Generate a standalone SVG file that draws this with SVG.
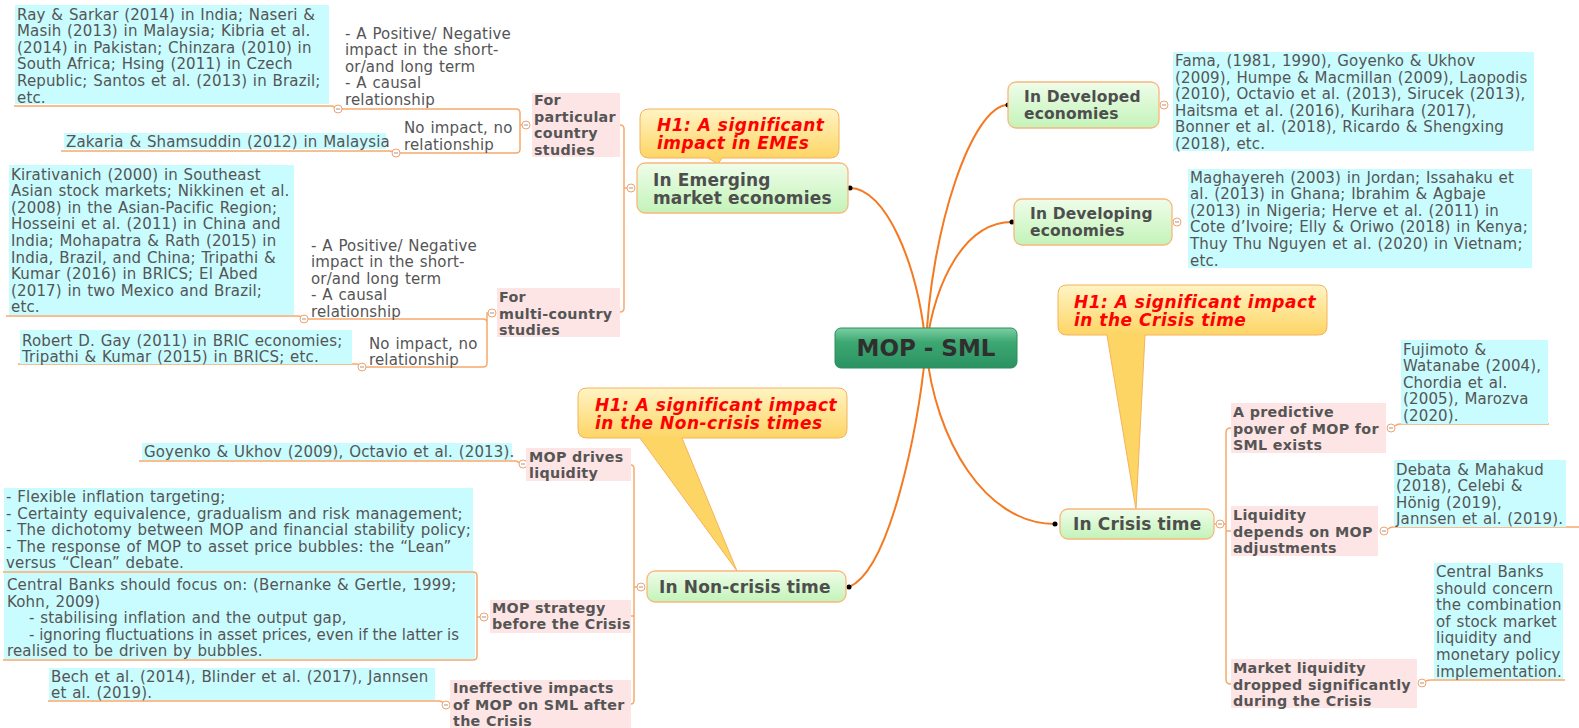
<svg xmlns="http://www.w3.org/2000/svg" width="1579" height="728" viewBox="0 0 1579 728">
<defs>
<style>
text{font-family:"DejaVu Sans",Verdana,"Liberation Sans",sans-serif}
.r{font-size:15px;fill:#555;letter-spacing:0.15px;word-spacing:0.8px}
.p{font-size:14.3px;font-weight:bold;fill:#555;letter-spacing:0.3px}
.g{font-weight:bold;fill:#4e4e4e;letter-spacing:0.15px}
.h{font-size:17px;font-weight:bold;font-style:italic;fill:#ff0000;letter-spacing:0.5px}
.cy{fill:#c9fcfe}
.pk{fill:#fde5e5}
.gn{fill:url(#gGreen);stroke:#f9b77c;stroke-width:1.3}
.ln{fill:none;stroke:#f6a96b;stroke-width:1.5}
.rc{fill:none;stroke:#f47920;stroke-width:2}
.co{stroke:#f4b25c;stroke-width:1}
</style>
<linearGradient id="gRoot" x1="0" y1="0" x2="0" y2="1"><stop offset="0" stop-color="#7ccfa3"/><stop offset="0.35" stop-color="#3da872"/><stop offset="1" stop-color="#2b9262"/></linearGradient>
<linearGradient id="gGreen" x1="0" y1="0" x2="0" y2="1"><stop offset="0" stop-color="#effde9"/><stop offset="1" stop-color="#c3f3b9"/></linearGradient>
<linearGradient id="gC1" gradientUnits="userSpaceOnUse" x1="0" y1="109" x2="0" y2="158"><stop offset="0" stop-color="#fff4c4"/><stop offset="1" stop-color="#fdd565"/></linearGradient>
<linearGradient id="gC2" gradientUnits="userSpaceOnUse" x1="0" y1="388" x2="0" y2="438"><stop offset="0" stop-color="#fff4c4"/><stop offset="1" stop-color="#fdd565"/></linearGradient>
<linearGradient id="gC3" gradientUnits="userSpaceOnUse" x1="0" y1="285" x2="0" y2="335"><stop offset="0" stop-color="#fff4c4"/><stop offset="1" stop-color="#fdd565"/></linearGradient>
<g id="cc"><circle r="4" fill="#fff" stroke="#f3a26a" stroke-width="1"/><path d="M-2 0H2" stroke="#999" stroke-width="1"/></g>
</defs>
<rect width="1579" height="728" fill="#fff"/>

<g id="connectors">
<path class="rc" d="M926 348C918 262 885 188 850 188"/>
<path class="rc" d="M926 348C930 230 972 105 1008 105"/>
<path class="rc" d="M926 348C935 280 965 222 1012 222"/>
<path class="rc" d="M926 348C918 430 890 570 849 587"/>
<path class="rc" d="M926 348C935 440 985 524 1055 524"/>
<circle cx="850" cy="188" r="2.5" fill="#000"/>
<circle cx="1008" cy="105" r="2.5" fill="#000"/>
<circle cx="1012" cy="222" r="2.5" fill="#000"/>
<circle cx="849" cy="587" r="2.5" fill="#000"/>
<circle cx="1055" cy="524" r="2.5" fill="#000"/>
<path class="ln" d="M620 125Q624 125 624 129V308Q624 312 620 312M624 188H627"/>
<path class="ln" d="M338 109H516Q520 109 520 113V149Q520 153 516 153H400M520 125H522"/>
<path class="ln" d="M14 106H331Q334 106 335 108"/>
<path class="ln" d="M61 151H389Q392 151 393 152"/>
<path class="ln" d="M306 319H483Q487 319 487 323V363Q487 367 483 367H366M487 323V313H488"/>
<path class="ln" d="M6 316H298Q301 316 302 318"/>
<path class="ln" d="M18 364H356Q359 364 360 366"/>
<path class="ln" d="M631 465Q634 465 634 469V700Q634 704 631 704M634 587H637M631 616H634"/>
<path class="ln" d="M139 461H515Q518 461 519 463"/>
<path class="ln" d="M3 572H473Q477 572 477 576V656Q477 660 473 660H3M477 617H480"/>
<path class="ln" d="M48 701H439Q442 701 443 703"/>
<path class="ln" d="M1231 428Q1226 428 1226 432V680Q1226 684 1231 684M1214 524H1226M1226 531H1231"/>
<path class="ln" d="M1395 426Q1397 424 1400 424H1549"/>
<path class="ln" d="M1388 529Q1390 527 1393 527H1579"/>
<path class="ln" d="M1426 681Q1428 680 1431 680H1565"/>
<use href="#cc" x="338" y="109"/>
<use href="#cc" x="396" y="153"/>
<use href="#cc" x="526" y="125"/>
<use href="#cc" x="631" y="188"/>
<use href="#cc" x="304" y="319"/>
<use href="#cc" x="362" y="367"/>
<use href="#cc" x="492" y="313"/>
<use href="#cc" x="641" y="587"/>
<use href="#cc" x="523" y="464"/>
<use href="#cc" x="484" y="617"/>
<use href="#cc" x="446" y="705"/>
<use href="#cc" x="1220" y="524"/>
<use href="#cc" x="1391" y="428"/>
<use href="#cc" x="1384" y="531"/>
<use href="#cc" x="1422" y="683"/>
<use href="#cc" x="1164" y="105"/>
<use href="#cc" x="1177" y="222"/>
</g>

<g id="root">
<rect x="835" y="328" width="182" height="40" rx="6" fill="url(#gRoot)" stroke="#2c8d5c" stroke-width="1"/>
<text x="926" y="356" text-anchor="middle" font-size="23" font-weight="bold" fill="#2f2f2f">MOP - SML</text>
</g>

<g id="callout-emes">
<path class="co" fill="url(#gC1)" d="M649 109H830Q839 109 839 118V149Q839 158 830 158H722L718 164L708 158H649Q640 158 640 149V118Q640 109 649 109Z"/>
<text class="h"><tspan x="657" y="131">H1: A significant</tspan><tspan x="657" y="149">impact in EMEs</tspan></text>
</g>
<g id="callout-noncrisis">
<path class="co" fill="url(#gC2)" d="M587 388H838Q847 388 847 397V429Q847 438 838 438H682L737 571L640 438H587Q578 438 578 429V397Q578 388 587 388Z"/>
<text class="h"><tspan x="595" y="411">H1: A significant impact</tspan><tspan x="595" y="429">in the Non-crisis times</tspan></text>
</g>
<g id="callout-crisis">
<path class="co" fill="url(#gC3)" d="M1067 285H1318Q1327 285 1327 294V326Q1327 335 1318 335H1145L1136 510L1107 335H1067Q1058 335 1058 326V294Q1058 285 1067 285Z"/>
<text class="h"><tspan x="1074" y="308">H1: A significant impact</tspan><tspan x="1074" y="326">in the Crisis time</tspan></text>
</g>

<g id="emerging">
<rect class="gn" x="637" y="163" width="211" height="50" rx="8"/>
<text class="g" font-size="17"><tspan x="653" y="186">In Emerging</tspan><tspan x="653" y="204">market economies</tspan></text>
</g>
<g id="developed">
<rect class="gn" x="1008" y="82" width="151" height="46" rx="8"/>
<text class="g" font-size="15.5"><tspan x="1024" y="102">In Developed</tspan><tspan x="1024" y="119">economies</tspan></text>
</g>
<g id="developing">
<rect class="gn" x="1014" y="199" width="158" height="46" rx="8"/>
<text class="g" font-size="15.5"><tspan x="1030" y="219">In Developing</tspan><tspan x="1030" y="236">economies</tspan></text>
</g>
<g id="noncrisis">
<rect class="gn" x="647" y="571" width="199" height="31" rx="8"/>
<text class="g" font-size="17" x="659" y="593">In Non-crisis time</text>
</g>
<g id="crisis">
<rect class="gn" x="1060" y="509" width="154" height="30" rx="8"/>
<text class="g" font-size="17" x="1073" y="530">In Crisis time</text>
</g>

<g id="developed-refs">
<rect class="cy" x="1173" y="52" width="361" height="99"/>
<text class="r"><tspan x="1175" y="66">Fama, (1981, 1990), Goyenko &amp; Ukhov</tspan><tspan x="1175" y="82.6">(2009), Humpe &amp; Macmillan (2009), Laopodis</tspan><tspan x="1175" y="99.2">(2010), Octavio et al. (2013), Sirucek (2013),</tspan><tspan x="1175" y="115.8">Haitsma et al. (2016), Kurihara (2017),</tspan><tspan x="1175" y="132.4">Bonner et al. (2018), Ricardo &amp; Shengxing</tspan><tspan x="1175" y="149">(2018), etc.</tspan></text>
</g>
<g id="developing-refs">
<rect class="cy" x="1188" y="169" width="344" height="99"/>
<text class="r"><tspan x="1190" y="182.5">Maghayereh (2003) in Jordan; Issahaku et</tspan><tspan x="1190" y="199.1">al. (2013) in Ghana; Ibrahim &amp; Agbaje</tspan><tspan x="1190" y="215.7">(2013) in Nigeria; Herve et al. (2011) in</tspan><tspan x="1190" y="232.3">Cote d’Ivoire; Elly &amp; Oriwo (2018) in Kenya;</tspan><tspan x="1190" y="248.9">Thuy Thu Nguyen et al. (2020) in Vietnam;</tspan><tspan x="1190" y="265.5">etc.</tspan></text>
</g>

<g id="particular">
<rect class="pk" x="532" y="93" width="88" height="64"/>
<text class="p"><tspan x="534" y="105">For</tspan><tspan x="534" y="121.7">particular</tspan><tspan x="534" y="138.4">country</tspan><tspan x="534" y="155">studies</tspan></text>
</g>
<g id="particular-impact">
<text class="r"><tspan x="345" y="38.5">- A Positive/ Negative</tspan><tspan x="345" y="55">impact in the short-</tspan><tspan x="345" y="71.5">or/and long term</tspan><tspan x="345" y="88">- A causal</tspan><tspan x="345" y="104.5">relationship</tspan></text>
</g>
<g id="particular-refs">
<rect class="cy" x="15" y="5" width="314" height="99"/>
<text class="r"><tspan x="17" y="19.5">Ray &amp; Sarkar (2014) in India; Naseri &amp;</tspan><tspan x="17" y="36.1">Masih (2013) in Malaysia; Kibria et al.</tspan><tspan x="17" y="52.7">(2014) in Pakistan; Chinzara (2010) in</tspan><tspan x="17" y="69.3">South Africa; Hsing (2011) in Czech</tspan><tspan x="17" y="85.9">Republic; Santos et al. (2013) in Brazil;</tspan><tspan x="17" y="102.5">etc.</tspan></text>
</g>
<g id="particular-noimpact">
<text class="r"><tspan x="404" y="133">No impact, no</tspan><tspan x="404" y="150">relationship</tspan></text>
</g>
<g id="zakaria">
<rect class="cy" x="64" y="133" width="322" height="16"/>
<text class="r" x="66" y="147">Zakaria &amp; Shamsuddin (2012) in Malaysia</text>
</g>

<g id="multi">
<rect class="pk" x="497" y="288" width="123" height="49"/>
<text class="p"><tspan x="499" y="302">For</tspan><tspan x="499" y="318.5">multi-country</tspan><tspan x="499" y="335">studies</tspan></text>
</g>
<g id="multi-impact">
<text class="r"><tspan x="311" y="250.5">- A Positive/ Negative</tspan><tspan x="311" y="267">impact in the short-</tspan><tspan x="311" y="283.5">or/and long term</tspan><tspan x="311" y="300">- A causal</tspan><tspan x="311" y="316.5">relationship</tspan></text>
</g>
<g id="multi-refs">
<rect class="cy" x="9" y="165" width="285" height="150"/>
<text class="r"><tspan x="11" y="179.5">Kirativanich (2000) in Southeast</tspan><tspan x="11" y="196.1">Asian stock markets; Nikkinen et al.</tspan><tspan x="11" y="212.7">(2008) in the Asian-Pacific Region;</tspan><tspan x="11" y="229.3">Hosseini et al. (2011) in China and</tspan><tspan x="11" y="245.9">India; Mohapatra &amp; Rath (2015) in</tspan><tspan x="11" y="262.5">India, Brazil, and China; Tripathi &amp;</tspan><tspan x="11" y="279.1">Kumar (2016) in BRICS; El Abed</tspan><tspan x="11" y="295.7">(2017) in two Mexico and Brazil;</tspan><tspan x="11" y="312.3">etc.</tspan></text>
</g>
<g id="multi-noimpact">
<text class="r"><tspan x="369" y="348.5">No impact, no</tspan><tspan x="369" y="365">relationship</tspan></text>
</g>
<g id="robert">
<rect class="cy" x="20" y="330" width="332" height="34"/>
<text class="r"><tspan x="22" y="345.5">Robert D. Gay (2011) in BRIC economies;</tspan><tspan x="22" y="362">Tripathi &amp; Kumar (2015) in BRICS; etc.</tspan></text>
</g>

<g id="mop-drives">
<rect class="pk" x="526" y="448" width="105" height="33"/>
<text class="p"><tspan x="529" y="462">MOP drives</tspan><tspan x="529" y="478">liquidity</tspan></text>
</g>
<g id="goyenko">
<rect class="cy" x="142" y="443" width="370" height="17"/>
<text class="r" x="144" y="457">Goyenko &amp; Ukhov (2009), Octavio et al. (2013).</text>
</g>
<g id="mop-strategy">
<rect class="pk" x="490" y="600" width="141" height="33"/>
<text class="p"><tspan x="492" y="613">MOP strategy</tspan><tspan x="492" y="629">before the Crisis</tspan></text>
</g>
<g id="strategy-list">
<rect class="cy" x="4" y="488" width="469" height="83"/>
<text class="r"><tspan x="6" y="502">- Flexible inflation targeting;</tspan><tspan x="6" y="518.6">- Certainty equivalence, gradualism and risk management;</tspan><tspan x="6" y="535.2">- The dichotomy between MOP and financial stability policy;</tspan><tspan x="6" y="551.8">- The response of MOP to asset price bubbles: the “Lean”</tspan><tspan x="6" y="568.4">versus “Clean” debate.</tspan></text>
</g>
<g id="strategy-focus">
<rect class="cy" x="4" y="573" width="471" height="86"/>
<text class="r"><tspan x="7" y="590">Central Banks should focus on: (Bernanke &amp; Gertle, 1999;</tspan><tspan x="7" y="606.6">Kohn, 2009)</tspan><tspan x="29" y="623.2">- stabilising inflation and the output gap,</tspan><tspan x="29" y="639.8" letter-spacing="0" word-spacing="0">- ignoring fluctuations in asset prices, even if the latter is</tspan><tspan x="7" y="656.4">realised to be driven by bubbles.</tspan></text>
</g>
<g id="ineffective">
<rect class="pk" x="450" y="680" width="181" height="48"/>
<text class="p"><tspan x="453" y="693">Ineffective impacts</tspan><tspan x="453" y="709.7">of MOP on SML after</tspan><tspan x="453" y="726.4">the Crisis</tspan></text>
</g>
<g id="bech">
<rect class="cy" x="49" y="668" width="386" height="32"/>
<text class="r"><tspan x="51" y="681.5">Bech et al. (2014), Blinder et al. (2017), Jannsen</tspan><tspan x="51" y="698">et al. (2019).</tspan></text>
</g>

<g id="predictive">
<rect class="pk" x="1231" y="403" width="155" height="50"/>
<text class="p"><tspan x="1233" y="417">A predictive</tspan><tspan x="1233" y="433.5">power of MOP for</tspan><tspan x="1233" y="450">SML exists</tspan></text>
</g>
<g id="fujimoto">
<rect class="cy" x="1401" y="340" width="147" height="84"/>
<text class="r"><tspan x="1403" y="354.5">Fujimoto &amp;</tspan><tspan x="1403" y="371.1">Watanabe (2004),</tspan><tspan x="1403" y="387.7">Chordia et al.</tspan><tspan x="1403" y="404.3">(2005), Marozva</tspan><tspan x="1403" y="420.9">(2020).</tspan></text>
</g>
<g id="liquidity-depends">
<rect class="pk" x="1231" y="506" width="147" height="50"/>
<text class="p"><tspan x="1233" y="520">Liquidity</tspan><tspan x="1233" y="536.5">depends on MOP</tspan><tspan x="1233" y="553">adjustments</tspan></text>
</g>
<g id="debata">
<rect class="cy" x="1394" y="460" width="172" height="67"/>
<text class="r"><tspan x="1396" y="474.5">Debata &amp; Mahakud</tspan><tspan x="1396" y="491.1">(2018), Celebi &amp;</tspan><tspan x="1396" y="507.7">Hönig (2019),</tspan><tspan x="1396" y="524.3">Jannsen et al. (2019).</tspan></text>
</g>
<g id="market-liquidity">
<rect class="pk" x="1231" y="659" width="186" height="49"/>
<text class="p"><tspan x="1233" y="673">Market liquidity</tspan><tspan x="1233" y="689.5">dropped significantly</tspan><tspan x="1233" y="706">during the Crisis</tspan></text>
</g>
<g id="central-banks">
<rect class="cy" x="1434" y="563" width="129" height="116"/>
<text class="r"><tspan x="1436" y="577">Central Banks</tspan><tspan x="1436" y="593.6">should concern</tspan><tspan x="1436" y="610.2">the combination</tspan><tspan x="1436" y="626.8">of stock market</tspan><tspan x="1436" y="643.4">liquidity and</tspan><tspan x="1436" y="660">monetary policy</tspan><tspan x="1436" y="676.6">implementation.</tspan></text>
</g>
</svg>
